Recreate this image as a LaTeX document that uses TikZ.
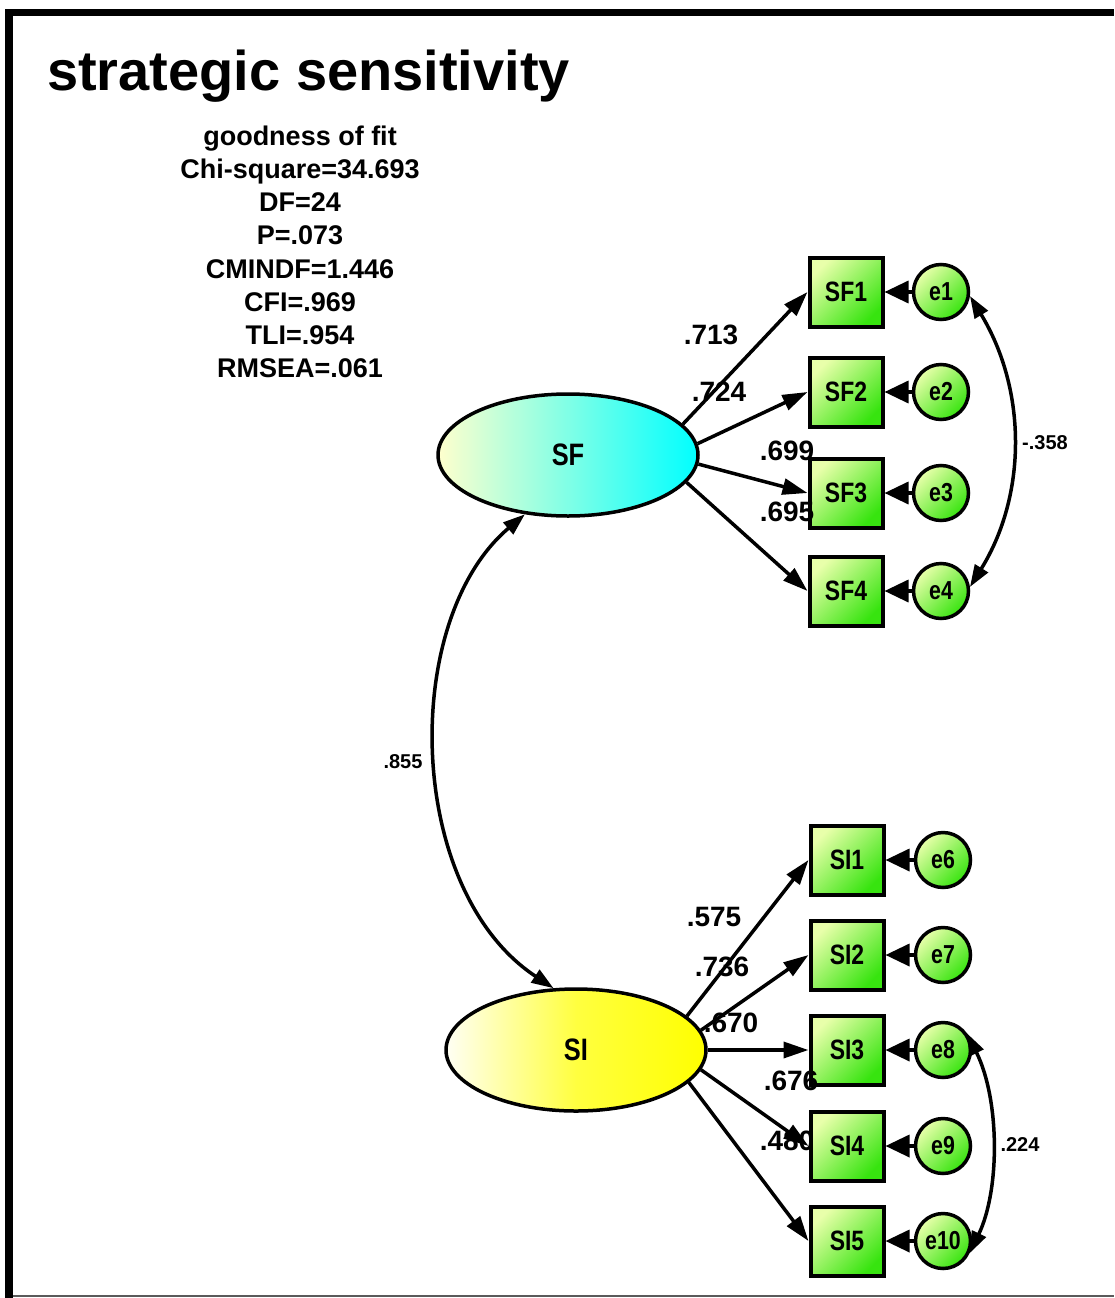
\documentclass[tikz,border=0pt]{standalone}
\usepackage{fontspec}
\setmainfont{Liberation Sans}
\newfontfamily\condfont{Liberation Sans}[FakeStretch=0.82]
\usetikzlibrary{arrows.meta,shapes.geometric}
\definecolor{palegreen}{RGB}{232,255,170}
\definecolor{boxgreen}{RGB}{55,228,15}
\definecolor{paleyel}{RGB}{255,255,205}
\definecolor{sfcyan}{RGB}{0,255,255}
\definecolor{framegray}{RGB}{90,90,90}
\begin{document}
\begin{tikzpicture}[x=1pt,y=-1pt,
  obs/.style={rectangle, draw=black, line width=4pt, minimum width=73pt, minimum height=69pt, inner sep=0pt,
    top color=palegreen, bottom color=boxgreen, shading angle=45, font=\condfont\fontsize{28}{30}\selectfont\bfseries},
  err/.style={circle, draw=black, line width=3.5pt, minimum size=55pt, inner sep=0pt,
    top color=palegreen, bottom color=boxgreen, shading angle=45, font=\condfont\fontsize{26}{28}\selectfont\bfseries},
  lat/.style={ellipse, draw=black, line width=3.5pt, minimum width=260pt, minimum height=122pt, inner sep=0pt,
    font=\condfont\fontsize{31}{33}\selectfont\bfseries},
  load/.style={font=\fontsize{28}{30}\selectfont\bfseries, inner sep=0pt},
  covlab/.style={font=\fontsize{20}{24}\selectfont\bfseries, inner sep=0pt},
  fitline/.style={font=\fontsize{27}{30}\selectfont\bfseries, inner sep=0pt, anchor=base},
  larr/.style={line width=3.5pt, -{Triangle[length=25pt,width=16pt]}},
  earr/.style={line width=3.5pt, -{Triangle[length=24pt,width=22pt]}},
  carr/.style={line width=3.5pt, {Triangle[length=22pt,width=15pt]}-{Triangle[length=22pt,width=15pt]}},
]
% background and frame
\fill[white] (0,0) rectangle (1114,1298);
\useasboundingbox (0,0) rectangle (1114,1298);
\fill[black] (5,9) rectangle (1114,16);
\fill[black] (5,9) rectangle (13,1298);
\draw[framegray, line width=2pt] (13,1296) -- (1114,1296);

% title
\node[anchor=base west, inner sep=0pt, font=\fontsize{56}{60}\selectfont\bfseries] (title) at (47,90) {strategic sensitivity};

% fit statistics
\node[fitline] (fit1) at (300,145) {goodness of fit};
\node[fitline] (fit2) at (300,178) {Chi-square=34.693};
\node[fitline] (fit3) at (300,211) {DF=24};
\node[fitline] (fit4) at (300,244) {P=.073};
\node[fitline] (fit5) at (300,278) {CMINDF=1.446};
\node[fitline] (fit6) at (300,311) {CFI=.969};
\node[fitline] (fit7) at (300,344) {TLI=.954};
\node[fitline] (fit8) at (300,377) {RMSEA=.061};

% latent variables
\node[lat, left color=paleyel, right color=sfcyan] (SF) at (568,455) {SF};
\node[lat, left color=yellow!4, right color=yellow, middle color=yellow!75] (SI) at (576,1050) {SI};

% observed variables
\node[obs] (SF1) at (846,292) {SF1};
\node[obs] (SF2) at (846,392) {SF2};
\node[obs] (SF3) at (846,493) {SF3};
\node[obs] (SF4) at (846,591) {SF4};
\node[obs] (SI1) at (847,860) {SI1};
\node[obs] (SI2) at (847,955) {SI2};
\node[obs] (SI3) at (847,1050) {SI3};
\node[obs] (SI4) at (847,1146) {SI4};
\node[obs] (SI5) at (847,1241) {SI5};

% error terms
\node[err] (e1) at (941,292) {e1};
\node[err] (e2) at (941,392) {e2};
\node[err] (e3) at (941,493) {e3};
\node[err] (e4) at (941,591) {e4};
\node[err] (e6) at (943,860) {e6};
\node[err] (e7) at (943,955) {e7};
\node[err] (e8) at (943,1050) {e8};
\node[err] (e9) at (943,1146) {e9};
\node[err] (e10) at (943,1241) {e10};

% loading labels
\node[load] (l1) at (711,335) {.713};
\node[load] (l2) at (719,392) {.724};
\node[load] (l3) at (787,451) {.699};
\node[load] (l4) at (787,512) {.695};
\node[load] (l6) at (714,917) {.575};
\node[load] (l7) at (722,967) {.736};
\node[load] (l8) at (731,1023) {.670};
\node[load] (l9) at (791,1081) {.676};
\node[load] (l10) at (787,1141) {.480};

% covariance labels
\node[covlab] (c1) at (1045,443) {-.358};
\node[covlab] (c2) at (1020,1145) {.224};
\node[covlab] (c3) at (403,762) {.855};

% loadings
\draw[larr] (SF.15) -- (SF1.west);
\draw[larr] (SF.5) -- (SF2.west);
\draw[larr] (SF.-4) -- (SF3.west);
\draw[larr] (SF.-13) -- (SF4.west);
\draw[larr] (SI.17) -- (SI1.west);
\draw[larr] (SI.9) -- (SI2.west);
\draw[larr] (SI.0) -- (SI3.west);
\draw[larr] (SI.-9) -- (SI4.west);
\draw[larr] (SI.-16) -- (SI5.west);

% error paths
\draw[earr] (e1) -- (SF1);
\draw[earr] (e2) -- (SF2);
\draw[earr] (e3) -- (SF3);
\draw[earr] (e4) -- (SF4);
\draw[earr] (e6) -- (SI1);
\draw[earr] (e7) -- (SI2);
\draw[earr] (e8) -- (SI3);
\draw[earr] (e9) -- (SI4);
\draw[earr] (e10) -- (SI5);

% covariances
\draw[carr] (SF.234) .. controls (400,620) and (405,890) .. (SI.110);
\draw[carr] (e1.-8) .. controls (1027,390) and (1027,495) .. (e4.8);
\draw[carr] (e8.35) .. controls (1000,1100) and (1000,1190) .. (e10.-25);
\end{tikzpicture}
\end{document}
